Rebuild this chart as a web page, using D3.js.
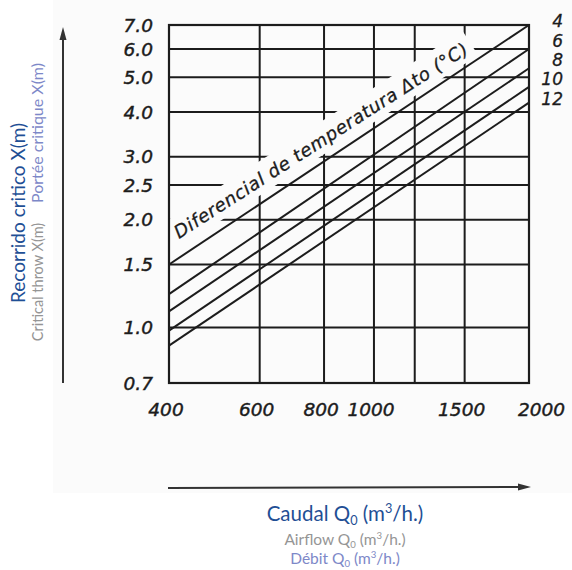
<!DOCTYPE html>
<html><head><meta charset="utf-8">
<script src="https://cdn.jsdelivr.net/npm/d3@7"></script>
<style>body{margin:0;background:#fff} svg{display:block}</style>
</head><body><svg id="c" width="572" height="570"></svg>
<script>
// ---- data ----
const flowTicks = [400, 600, 800, 1000, 1500, 2000];
const flowGrid = [600, 800, 1000, 1200, 1500];
const throwTicks = [0.7, 1.0, 1.5, 2.0, 2.5, 3.0, 4.0, 5.0, 6.0, 7.0];
const throwGrid = [1.0, 1.5, 2.0, 2.5, 3.0, 4.0, 5.0, 6.0];
const deltaT = [4, 6, 8, 10, 12];
const flowEnds = [400, 2000];
const throwAt400 = [1.5, 1.24, 1.11, 0.98, 0.89];
const throwAt2000 = [7.0, 6.0, 5.3, 4.7, 4.25];
const curveTitle = "Diferencial de temperatura \u0394to (\u00B0C)";

// ---- layout ----
const svg = d3.select("#c");
const W = 572, H = 570;
const ink = "#1c1c1c", bg = "#fbfbfb";
const x = d3.scaleLog().domain([400, 2000]).range([169, 529]);
const y = d3.scaleLog().domain([0.7, 7]).range([383, 25]);
const chartFont = "'DejaVu Sans', sans-serif";
const labelFont = "Lato, 'Open Sans', sans-serif";

svg.append("rect").attr("x", 53).attr("y", 0).attr("width", W - 53).attr("height", 493).attr("fill", bg);

const defs = svg.append("defs");
defs.append("clipPath").attr("id", "plotclip").append("rect")
  .attr("x", x(400) + 1).attr("y", y(7) + 1)
  .attr("width", x(2000) - x(400) - 2).attr("height", y(0.7) - y(7) - 2);

const g = svg.append("g");
// grid
g.selectAll("line.h").data(throwGrid).join("line")
  .attr("x1", x(400)).attr("x2", x(2000))
  .attr("y1", d => y(d)).attr("y2", d => y(d))
  .attr("stroke", ink).attr("stroke-width", 2);
g.selectAll("line.v").data(flowGrid).join("line")
  .attr("y1", y(0.7)).attr("y2", y(7))
  .attr("x1", d => x(d)).attr("x2", d => x(d))
  .attr("stroke", ink).attr("stroke-width", 2);

// text backdrop + title along lines
const tx = 179, ty = 239, ang = -32.7, tlen = 345;
svg.append("g").attr("clip-path", "url(#plotclip)")
  .append("rect")
  .attr("transform", `translate(${tx},${ty}) rotate(${ang})`)
  .attr("x", -2).attr("y", -22).attr("width", tlen + 8).attr("height", 29)
  .attr("fill", bg);

// diagonal lines
const line = d3.line().x(d => x(d[0])).y(d => y(d[1]));
svg.append("g").selectAll("path").data(deltaT.map((t, i) => [[flowEnds[0], throwAt400[i]], [flowEnds[1], throwAt2000[i]]]))
  .join("path").attr("d", line).attr("fill", "none").attr("stroke", ink).attr("stroke-width", 2);

// frame
svg.append("rect").attr("x", x(400)).attr("y", y(7))
  .attr("width", x(2000) - x(400)).attr("height", y(0.7) - y(7))
  .attr("fill", "none").attr("stroke", ink).attr("stroke-width", 2.2);

svg.append("text")
  .attr("transform", `translate(${tx},${ty}) rotate(${ang})`)
  .attr("font-family", chartFont).attr("font-style", "italic").attr("font-size", 18)
  .attr("fill", ink).attr("stroke", ink).attr("stroke-width", 0.3)
  .attr("textLength", tlen).attr("lengthAdjust", "spacing")
  .text(curveTitle);

// y tick labels
svg.append("g").selectAll("text").data(throwTicks).join("text")
  .attr("x", x(400) - 16).attr("y", d => y(d)).attr("dy", "0.36em")
  .attr("text-anchor", "end").attr("font-family", chartFont).attr("font-style", "italic")
  .attr("font-size", 18.5).attr("fill", ink).attr("stroke", ink).attr("stroke-width", 0.45)
  .text(d3.format(".1f"));

// x tick labels
svg.append("g").selectAll("text").data(flowTicks).join("text")
  .attr("x", d => d === 2000 ? x(d) - 11 : x(d) - 3).attr("y", 416)
  .attr("text-anchor", d => d === 2000 ? "start" : "middle")
  .attr("font-family", chartFont).attr("font-style", "italic")
  .attr("font-size", 18.5).attr("fill", ink).attr("stroke", ink).attr("stroke-width", 0.45)
  .text(d => d);

// delta T labels
svg.append("g").selectAll("text").data(deltaT).join("text")
  .attr("x", 563).attr("y", (d, i) => 21 + i * 19.4).attr("dy", "0.36em")
  .attr("text-anchor", "end").attr("font-family", chartFont).attr("font-style", "italic")
  .attr("font-size", 17).attr("fill", ink).attr("stroke", ink).attr("stroke-width", 0.3)
  .text(d => d);

// axes arrows
svg.append("line").attr("x1", 63).attr("x2", 63).attr("y1", 383).attr("y2", 38)
  .attr("stroke", "#333").attr("stroke-width", 2);
svg.append("path").attr("d", "M63,27 L59.5,40 L66.5,40 Z").attr("fill", "#333");
svg.append("line").attr("x1", 168).attr("x2", 520).attr("y1", 488).attr("y2", 487)
  .attr("stroke", "#333").attr("stroke-width", 2);
svg.append("path").attr("d", "M531,487 L518,483.5 L518,490.5 Z").attr("fill", "#333");

// axis titles (left)
const blue = "#1f4f95", grey = "#959595", lilac = "#7d88c8";
svg.append("text").attr("transform", "translate(25,213) rotate(-90)")
  .attr("text-anchor", "middle").attr("font-family", labelFont).attr("font-size", 19)
  .attr("fill", blue).text("Recorrido critico X(m)");
svg.append("text").attr("transform", "translate(43,282) rotate(-90)")
  .attr("text-anchor", "middle").attr("font-family", labelFont).attr("font-size", 14.5)
  .attr("fill", grey).text("Critical throw X(m)");
svg.append("text").attr("transform", "translate(43,133) rotate(-90)")
  .attr("text-anchor", "middle").attr("font-family", labelFont).attr("font-size", 16)
  .attr("fill", lilac).text("Portée critique X(m)");

// axis titles (bottom)
function unitTitle(prefix, yPos, size, color) {
  const t = svg.append("text").attr("x", 345).attr("y", yPos).attr("text-anchor", "middle")
    .attr("font-family", labelFont).attr("font-size", size).attr("fill", color);
  t.append("tspan").text(prefix + " Q");
  t.append("tspan").attr("font-size", size * 0.62).attr("dy", size * 0.18).text("0");
  t.append("tspan").attr("dy", -size * 0.18).text(" (m");
  t.append("tspan").attr("font-size", size * 0.62).attr("dy", -size * 0.38).text("3");
  t.append("tspan").attr("dy", size * 0.38).text("/h.)");
}
unitTitle("Caudal", 521, 20.5, blue);
unitTitle("Airflow", 545, 15.5, grey);
unitTitle("Débit", 564, 15.5, lilac);
</script></body></html>
